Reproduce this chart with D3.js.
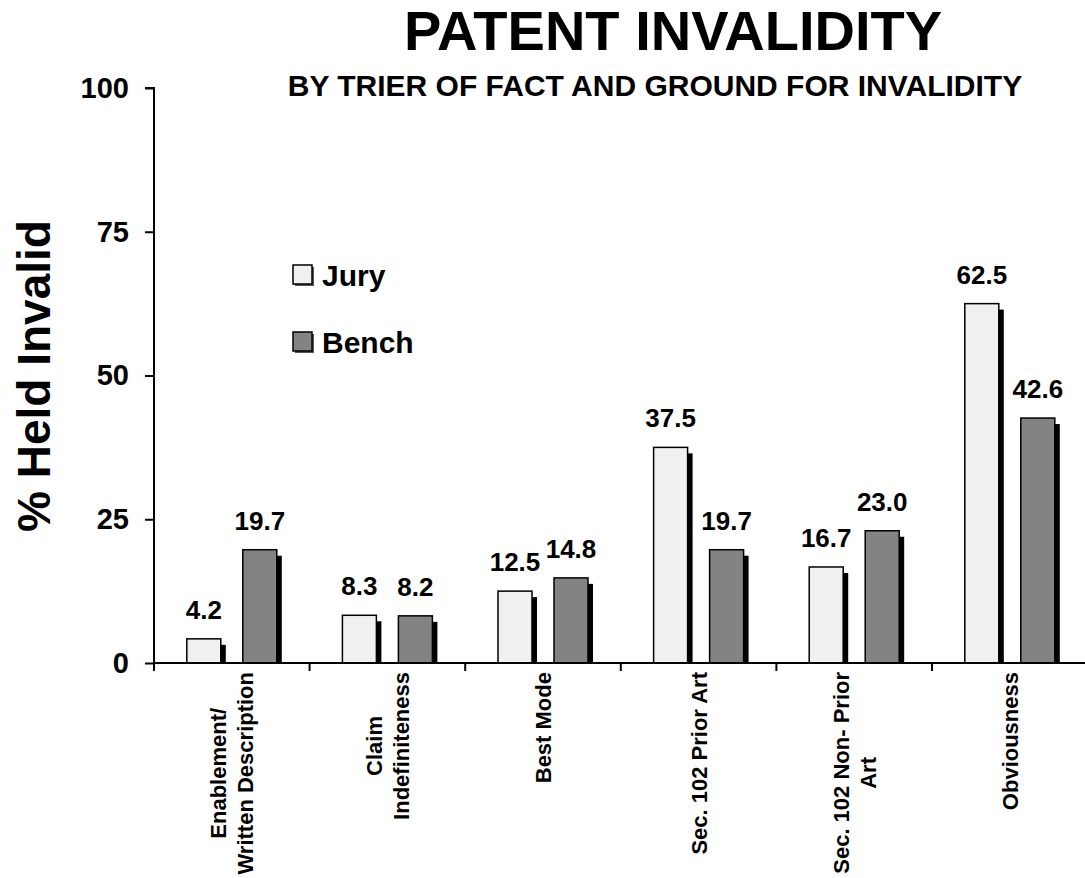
<!DOCTYPE html>
<html>
<head>
<meta charset="utf-8">
<script src="https://cdn.jsdelivr.net/npm/d3@7"></script>
<style>
  body { margin: 0; background: #fff; }
  svg { display: block; font-family: Arial, "Liberation Sans", sans-serif; font-weight: bold; }
</style>
</head>
<body>
<div id="chart"></div>
<script>
// data
const categories = [
  ['Enablement/', 'Written Description'],
  ['Claim', 'Indefiniteness'],
  ['Best Mode'],
  ['Sec. 102 Prior Art'],
  ['Sec. 102 Non- Prior', 'Art'],
  ['Obviousness']
];
const seriesNames = ['Jury', 'Bench'];
const juryValues = [4.2, 8.3, 12.5, 37.5, 16.7, 62.5];
const benchValues = [19.7, 8.2, 14.8, 19.7, 23.0, 42.6];
const yTicks = [0, 25, 50, 75, 100];

const colors = { Jury: '#f0f0f0', Bench: '#838383' };

const width = 1085, height = 878;
const margin = { top: 88, left: 154, bottom: 215 };
const baseline = height - margin.bottom; // 663

const keys = categories.map(d => d.join(' '));
const rows = keys.map((k, i) => ({ key: k, lines: categories[i], Jury: juryValues[i], Bench: benchValues[i] }));

const svg = d3.select('#chart').append('svg')
  .attr('width', width)
  .attr('height', height);

// scales
const xScale = d3.scaleBand()
  .domain(keys)
  .range([margin.left, margin.left + 6 * 155.6]);
const xInner = d3.scaleBand()
  .domain(seriesNames)
  .range([0, xScale.bandwidth()])
  .paddingInner(0.393)
  .paddingOuter(0.586);
const yScale = d3.scaleLinear()
  .domain([0, 100])
  .range([baseline, margin.top]);

// titles
svg.append('text')
  .attr('x', 673).attr('y', 50)
  .attr('text-anchor', 'middle')
  .style('font-size', '56px')
  .text('PATENT INVALIDITY');
svg.append('text')
  .attr('x', 655).attr('y', 96)
  .attr('text-anchor', 'middle')
  .style('font-size', '30px')
  .text('BY TRIER OF FACT AND GROUND FOR INVALIDITY');

// y axis title
svg.append('text')
  .attr('transform', `translate(50, 376) rotate(-90)`)
  .attr('text-anchor', 'middle')
  .style('font-size', '46px')
  .text('% Held Invalid');

// bars
const groups = svg.selectAll('.group')
  .data(rows)
  .join('g')
  .attr('class', 'group')
  .attr('transform', d => `translate(${xScale(d.key)},0)`);

const bars = groups.selectAll('.bar')
  .data(d => seriesNames.map(s => ({ series: s, value: d[s] })))
  .join('g')
  .attr('class', 'bar');

// drop shadow
bars.append('rect')
  .attr('x', d => xInner(d.series) + 5)
  .attr('y', d => yScale(d.value) + 6)
  .attr('width', xInner.bandwidth())
  .attr('height', d => Math.max(0, baseline - yScale(d.value) - 6))
  .attr('fill', '#000');

bars.append('rect')
  .attr('x', d => xInner(d.series))
  .attr('y', d => yScale(d.value))
  .attr('width', xInner.bandwidth())
  .attr('height', d => baseline - yScale(d.value))
  .attr('fill', d => colors[d.series])
  .attr('stroke', '#000')
  .attr('stroke-width', 1.5);

bars.append('text')
  .attr('x', d => xInner(d.series) + xInner.bandwidth() / 2)
  .attr('y', d => yScale(d.value) - 20)
  .attr('text-anchor', 'middle')
  .style('font-size', '26px')
  .text(d => d.value.toFixed(1));

// y axis
const yAxis = d3.axisLeft(yScale)
  .tickValues(yTicks)
  .tickSize(9)
  .tickPadding(16);
const yAxisG = svg.append('g')
  .attr('transform', `translate(${margin.left},0)`)
  .call(yAxis);
yAxisG.select('.domain').attr('stroke-width', 2).attr('d', `M-9,${margin.top}H0V${baseline}`);
yAxisG.selectAll('.tick line').attr('stroke-width', 2);
yAxisG.selectAll('.tick text')
  .style('font-size', '29px')
  .style('font-family', 'Arial, "Liberation Sans", sans-serif')
  .style('font-weight', 'bold')
  .attr('fill', '#000');

// x axis line + ticks at band edges
const edges = keys.map(k => xScale(k));
svg.append('line')
  .attr('x1', margin.left).attr('x2', width)
  .attr('y1', baseline).attr('y2', baseline)
  .attr('stroke', '#000').attr('stroke-width', 2);
svg.selectAll('.xtick')
  .data(edges)
  .join('line')
  .attr('class', 'xtick')
  .attr('x1', d => d).attr('x2', d => d)
  .attr('y1', baseline).attr('y2', baseline + 8)
  .attr('stroke', '#000').attr('stroke-width', 2);

// category labels, rotated, lines centred on the longest one
const labels = svg.selectAll('.xlabel')
  .data(rows)
  .join('g')
  .attr('class', 'xlabel');
labels.each(function (d) {
  const g = d3.select(this);
  const n = d.lines.length;
  const texts = g.selectAll('text')
    .data(d.lines)
    .join('text')
    .attr('x', 0)
    .attr('y', (l, i) => (i - (n - 1) / 2) * 27 + 8)
    .attr('text-anchor', 'middle')
    .style('font-size', '22px')
    .text(l => l);
  const maxLen = d3.max(texts.nodes(), t => t.getComputedTextLength());
  const cx = xScale(d.key) + xScale.bandwidth() / 2;
  g.attr('transform', `translate(${cx}, ${672 + maxLen / 2}) rotate(-90)`);
});

// legend
const legend = svg.append('g');
const legendRows = legend.selectAll('g')
  .data(seriesNames)
  .join('g')
  .attr('transform', (d, i) => `translate(293, ${265 + i * 67})`);
legendRows.append('rect')
  .attr('x', 2).attr('y', 2)
  .attr('width', 19).attr('height', 19)
  .attr('fill', '#555');
legendRows.append('rect')
  .attr('width', 19).attr('height', 19)
  .attr('fill', d => colors[d])
  .attr('stroke', '#000')
  .attr('stroke-width', 1.5);
legendRows.append('text')
  .attr('x', 29).attr('y', 21)
  .style('font-size', '30px')
  .text(d => d);
</script>
</body>
</html>
